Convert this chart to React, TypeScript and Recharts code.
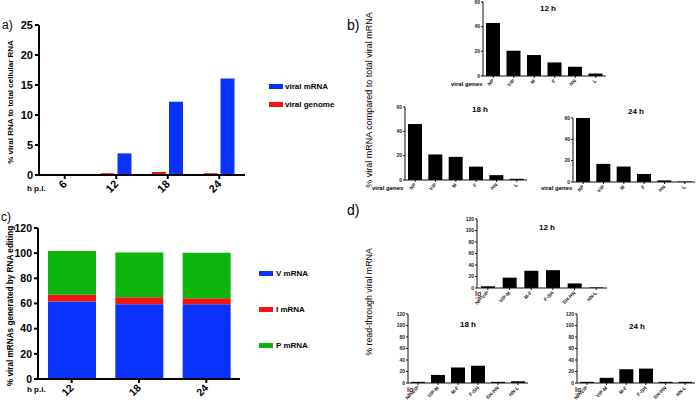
import { BarChart, Bar, XAxis, YAxis } from 'recharts';

const FONT = '"Liberation Sans", Arial, sans-serif';

// a) viral RNA vs cellular RNA
const hpiA = ['6', '12', '18', '24'];
const viralMrnaA = [0.1, 3.6, 12.2, 16.1];
const viralGenomeA = [0.05, 0.3, 0.5, 0.3];

// b) share of each viral mRNA
const genesB = ['NP', 'V/P', 'M', 'F', 'HN', 'L'];
const mrna12 = [43, 20.5, 17, 11, 7.5, 2];
const mrna18 = [46, 21, 19, 11, 4, 1];
const mrna24 = [60, 17, 14.5, 7.5, 1.5, 0.5];

// c) RNA editing
const hpiC = ['12', '18', '24'];
const vMrna = [61.5, 59.5, 59.5];
const iMrna = [5.5, 5.5, 4.7];
const pMrna = [34.7, 35.5, 36.2];

// d) read-through
const junctionsD = ['NP-V/P', 'V/P-M', 'M-F', 'F-SH', 'SH-HN', 'HN-L'];
const rt12 = [3, 18, 30, 31, 8, 1];
const rt18 = [2, 14, 27, 30, 2, 3];
const rt24 = [2, 9, 24, 25, 2, 2];

const BLUE = '#0a32ff';
const RED = '#f01414';
const GREEN = '#0cb40c';

function frame(x0: number, x1: number, y0: number, y1: number, yw: number, top: number, right: number, xh: number) {
  return {
    style: { position: 'absolute' as const, left: x0 - yw, top: y0 - top },
    width: x1 - x0 + yw + right,
    height: y1 - y0 + top + xh,
    margin: { top, right, left: 0, bottom: 0 },
    yw,
    xh,
  };
}

// x labels turned 45° and hung from the tick, like the original
function slanted(size: number, color: string) {
  return (props: any) => {
    const { x, y, payload } = props;
    return (
      <g transform={`translate(${x},${y})`}>
        <text x={0} y={0} dy={size * 0.35} textAnchor="end" transform="rotate(-45)"
          fontSize={size} fontWeight={700} fill={color} fontFamily={FONT}>
          {payload.value}
        </text>
      </g>
    );
  };
}

const bigTick = { fontSize: 11, fontWeight: 700, fill: '#000', fontFamily: FONT };
const bigLine = { stroke: '#000', strokeWidth: 2 };

function PanelA() {
  const f = frame(39, 245, 25, 175, 39, 10, 15, 30);
  const data = hpiA.map((h, i) => ({ h, mrna: viralMrnaA[i], genome: viralGenomeA[i] }));
  return (
    <div style={f.style}>
      <BarChart width={f.width} height={f.height} data={data} margin={f.margin} barGap={3}>
        <XAxis dataKey="h" interval={0} height={f.xh} tick={slanted(11, '#000')}
          axisLine={bigLine} tickLine={bigLine} tickSize={4} tickMargin={3} />
        <YAxis width={f.yw} domain={[0, 25]} ticks={[0, 5, 10, 15, 20, 25]} tick={bigTick}
          axisLine={bigLine} tickLine={bigLine} tickSize={4} />
        <Bar dataKey="genome" fill={RED} barSize={14} isAnimationActive={false} />
        <Bar dataKey="mrna" fill={BLUE} barSize={14} isAnimationActive={false} />
      </BarChart>
    </div>
  );
}

function PanelC() {
  const f = frame(38, 240, 228, 379, 38, 10, 10, 30);
  const data = hpiC.map((h, i) => ({ h, v: vMrna[i], i: iMrna[i], p: pMrna[i] }));
  const tick = { ...bigTick, fontSize: 10.5 };
  return (
    <div style={f.style}>
      <BarChart width={f.width} height={f.height} data={data} margin={f.margin}>
        <XAxis dataKey="h" interval={0} height={f.xh} tick={slanted(10.5, '#000')}
          axisLine={bigLine} tickLine={bigLine} tickSize={4} tickMargin={3} />
        <YAxis width={f.yw} domain={[0, 120]} ticks={[0, 20, 40, 60, 80, 100, 120]} tick={tick}
          axisLine={bigLine} tickLine={bigLine} tickSize={4} />
        <Bar dataKey="v" stackId="s" fill={BLUE} barSize={48} isAnimationActive={false} />
        <Bar dataKey="i" stackId="s" fill={RED} barSize={48} isAnimationActive={false} />
        <Bar dataKey="p" stackId="s" fill={GREEN} barSize={48} isAnimationActive={false} />
      </BarChart>
    </div>
  );
}

interface MiniProps {
  x0: number; x1: number; y0: number; y1: number;
  cats: string[]; vals: number[]; max: number; ticks: number[];
}

function Mini({ x0, x1, y0, y1, cats, vals, max, ticks }: MiniProps) {
  const f = frame(x0, x1, y0, y1, 22, 6, 4, 26);
  const data = cats.map((c, i) => ({ c, v: vals[i] }));
  const tick = { fontSize: 5, fontWeight: 700, fill: '#222', fontFamily: FONT };
  const line = { stroke: '#111', strokeWidth: 1 };
  return (
    <div style={f.style}>
      <BarChart width={f.width} height={f.height} data={data} margin={f.margin}>
        <XAxis dataKey="c" interval={0} height={f.xh} tick={slanted(5, '#222')}
          axisLine={line} tickLine={line} tickSize={2} tickMargin={2} />
        <YAxis width={f.yw} domain={[0, max]} ticks={ticks} tick={tick}
          axisLine={line} tickLine={line} tickSize={2} tickMargin={1} />
        <Bar dataKey="v" fill="#000" barSize={14} isAnimationActive={false} />
      </BarChart>
    </div>
  );
}

const bTicks = [0, 20, 40, 60];
const dTicks = [0, 20, 40, 60, 80, 100, 120];

function Lg({ x, y }: { x: number; y: number }) {
  return (
    <g>
      <text x={x} y={y} fontSize={7} fontWeight={700} fill="#333" fontFamily={FONT}>lg</text>
      <line x1={x} x2={x + 7} y1={y + 2} y2={y + 2} stroke="#e04040" strokeWidth={0.8} />
    </g>
  );
}

export default function App() {
  const t = { fontFamily: FONT, fill: '#000' };
  return (
    <div style={{ position: 'absolute', left: 0, top: 0, width: 696, height: 403, background: '#fff' }}>
      <PanelA />
      <PanelC />
      <Mini x0={483} x1={606} y0={2} y1={76} cats={genesB} vals={mrna12} max={60} ticks={bTicks} />
      <Mini x0={405} x1={527} y0={107} y1={180} cats={genesB} vals={mrna18} max={60} ticks={bTicks} />
      <Mini x0={573} x1={695} y0={118} y1={182} cats={genesB} vals={mrna24} max={60} ticks={bTicks} />
      <Mini x0={477} x1={607} y0={219} y1={288} cats={junctionsD} vals={rt12} max={120} ticks={dTicks} />
      <Mini x0={408} x1={528} y0={314} y1={383} cats={junctionsD} vals={rt18} max={120} ticks={dTicks} />
      <Mini x0={577} x1={695} y0={314} y1={383} cats={junctionsD} vals={rt24} max={120} ticks={dTicks} />
      <svg width={696} height={403} style={{ position: 'absolute', left: 0, top: 0, pointerEvents: 'none' }}>
        <text x={2} y={29} fontSize={12} {...t}>a)</text>
        <text x={347} y={30} fontSize={14} {...t}>b)</text>
        <text x={1} y={221} fontSize={12} {...t}>c)</text>
        <text x={347} y={215} fontSize={14} {...t}>d)</text>

        <text transform="translate(13,102) rotate(-90)" textAnchor="middle" fontSize={8} fontWeight={700} {...t}>
          % viral RNA to total cellular RNA
        </text>
        <text transform="translate(13,306) rotate(-90)" textAnchor="middle" fontSize={8.2} fontWeight={700} {...t}>
          % viral mRNAs generated by RNA editing
        </text>
        <text transform="translate(372,100) rotate(-90)" textAnchor="middle" fontSize={9} {...t}>
          % viral mRNA compared to total viral mRNA
        </text>
        <text transform="translate(372,302) rotate(-90)" textAnchor="middle" fontSize={8.8} {...t}>
          % read-through viral mRNA
        </text>

        <text x={27} y={191} fontSize={8} fontWeight={700} {...t}>h p.i.</text>
        <text x={27} y={392} fontSize={8} fontWeight={700} {...t}>h p.i.</text>

        <rect x={269} y={84} width={14} height={5} fill={BLUE} />
        <text x={285} y={89} fontSize={8} fontWeight={700} {...t}>viral mRNA</text>
        <rect x={269} y={102} width={14} height={5} fill={RED} />
        <text x={285} y={107} fontSize={8} fontWeight={700} {...t}>viral genome</text>

        <rect x={259} y={271} width={14} height={5} fill={BLUE} />
        <text x={276} y={276} fontSize={8} fontWeight={700} {...t}>V mRNA</text>
        <rect x={259} y={307} width={14} height={5} fill={RED} />
        <text x={276} y={312} fontSize={8} fontWeight={700} {...t}>I mRNA</text>
        <rect x={259} y={343} width={14} height={5} fill={GREEN} />
        <text x={276} y={348} fontSize={8} fontWeight={700} {...t}>P mRNA</text>

        <text x={548} y={11} textAnchor="middle" fontSize={8} fontWeight={700} {...t}>12 h</text>
        <text x={480} y={112} textAnchor="middle" fontSize={8} fontWeight={700} {...t}>18 h</text>
        <text x={636} y={114} textAnchor="middle" fontSize={8} fontWeight={700} {...t}>24 h</text>
        <text x={451} y={86} fontSize={6} fontWeight={700} {...t}>viral genes</text>
        <text x={372} y={190} fontSize={6} fontWeight={700} {...t}>viral genes</text>
        <text x={541} y={190} fontSize={6} fontWeight={700} {...t}>viral genes</text>

        <text x={547} y={230} textAnchor="middle" fontSize={8} fontWeight={700} {...t}>12 h</text>
        <text x={468} y={327} textAnchor="middle" fontSize={8} fontWeight={700} {...t}>18 h</text>
        <text x={637} y={329} textAnchor="middle" fontSize={8} fontWeight={700} {...t}>24 h</text>
        <Lg x={475} y={296} />
        <Lg x={407} y={392} />
        <Lg x={575} y={392} />
      </svg>
    </div>
  );
}
